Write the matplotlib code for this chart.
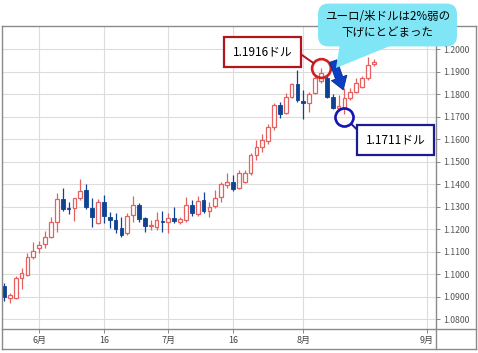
import numpy as np
import pandas as pd
import matplotlib
matplotlib.use("Agg")
import matplotlib.pyplot as plt
from matplotlib.lines import Line2D
from matplotlib.patches import Polygon

plt.rcParams['font.family'] = ['Noto Sans CJK JP', 'DejaVu Sans']

# daily EUR/USD candles (2020-05-22 .. 2020-08-19)
dates = pd.bdate_range("2020-05-22", periods=64)
opens = [1.0948, 1.0895, 1.0895, 1.0983, 1.0997, 1.1077, 1.1117, 1.1135, 1.1166, 1.1232,
         1.1335, 1.1297, 1.1295, 1.1339, 1.1375, 1.1295, 1.1228, 1.1321, 1.1255, 1.1241,
         1.1206, 1.1183, 1.1263, 1.1308, 1.1250, 1.1215, 1.1210, 1.1237, 1.1232, 1.1250,
         1.1232, 1.1241, 1.1308, 1.1268, 1.1330, 1.1281, 1.1303, 1.1343, 1.1397, 1.1410,
         1.1383, 1.1412, 1.1450, 1.1530, 1.1566, 1.1592, 1.1655, 1.1752, 1.1717, 1.1788,
         1.1846, 1.1770, 1.1761, 1.1806, 1.1859, 1.1872, 1.1788, 1.1739, 1.1739, 1.1783,
         1.1810, 1.1832, 1.1872, 1.1935]
highs = [1.0961, 1.0917, 1.0992, 1.1028, 1.1095, 1.1143, 1.1148, 1.1192, 1.1255, 1.1361,
         1.1383, 1.1321, 1.1339, 1.1423, 1.1401, 1.1339, 1.1335, 1.1352, 1.1277, 1.1272,
         1.1255, 1.1272, 1.1348, 1.1317, 1.1255, 1.1241, 1.1277, 1.1281, 1.1272, 1.1299,
         1.1255, 1.1343, 1.1330, 1.1348, 1.1366, 1.1321, 1.1375, 1.1410, 1.1450, 1.1441,
         1.1463, 1.1463, 1.1539, 1.1597, 1.1623, 1.1668, 1.1761, 1.1766, 1.1806, 1.1850,
         1.1908, 1.1819, 1.1810, 1.1886, 1.1916, 1.1886, 1.1801, 1.1797, 1.1828, 1.1828,
         1.1872, 1.1881, 1.1966, 1.1957]
lows = [1.0881, 1.0872, 1.0890, 1.0935, 1.0992, 1.1068, 1.1095, 1.1117, 1.1161, 1.1188,
        1.1281, 1.1268, 1.1237, 1.1330, 1.1290, 1.1210, 1.1223, 1.1228, 1.1206, 1.1183,
        1.1166, 1.1175, 1.1232, 1.1232, 1.1188, 1.1197, 1.1197, 1.1188, 1.1183, 1.1228,
        1.1223, 1.1232, 1.1259, 1.1259, 1.1272, 1.1255, 1.1295, 1.1321, 1.1383, 1.1370,
        1.1379, 1.1406, 1.1441, 1.1508, 1.1543, 1.1579, 1.1641, 1.1695, 1.1712, 1.1783,
        1.1766, 1.1690, 1.1721, 1.1801, 1.1850, 1.1783, 1.1735, 1.1725, 1.1711, 1.1775,
        1.1806, 1.1828, 1.1863, 1.1926]
closes = [1.0899, 1.0908, 1.0983, 1.1006, 1.1077, 1.1103, 1.1130, 1.1166, 1.1232, 1.1335,
          1.1290, 1.1292, 1.1339, 1.1370, 1.1299, 1.1255, 1.1321, 1.1259, 1.1241, 1.1201,
          1.1175, 1.1259, 1.1308, 1.1246, 1.1215, 1.1219, 1.1241, 1.1232, 1.1250, 1.1237,
          1.1246, 1.1308, 1.1272, 1.1326, 1.1281, 1.1299, 1.1339, 1.1401, 1.1410, 1.1379,
          1.1450, 1.1450, 1.1530, 1.1566, 1.1597, 1.1655, 1.1752, 1.1712, 1.1788, 1.1846,
          1.1775, 1.1761, 1.1801, 1.1872, 1.1895, 1.1788, 1.1739, 1.1750, 1.1783, 1.1810,
          1.1850, 1.1872, 1.1930, 1.1943]

yticks = [1.08, 1.09, 1.10, 1.11, 1.12, 1.13, 1.14, 1.15, 1.16, 1.17, 1.18, 1.19, 1.20]
xtick_dates = ["2020-06-01", "2020-06-16", "2020-07-01", "2020-07-16", "2020-08-03", "2020-09-01"]
xtick_labels = ["6月", "16", "7月", "16", "8月", "9月"]

up_col = "#e5605f"
down_col = "#0f4392"
W, H = 478, 353

def fp(x, y):  # figure pixel -> figure fraction
    return x / W, 1 - y / H

fig = plt.figure(figsize=(W / 100, H / 100), dpi=100)
ax = fig.add_axes([2 / W, (H - 329) / H, 434 / W, 303 / H])

o = np.array(opens); h = np.array(highs); l = np.array(lows); c = np.array(closes)
xi = np.arange(len(o))
up = c >= o
cols = np.where(up, up_col, down_col)

ax.vlines(xi, l, h, colors=cols, lw=0.9, zorder=2)
bottom = np.minimum(o, c)
height = np.maximum(np.abs(c - o), 0.00012)
ax.bar(xi[up], height[up], bottom=bottom[up], width=0.64, color="white",
       edgecolor=up_col, linewidth=0.9, zorder=3)
ax.bar(xi[~up], height[~up], bottom=bottom[~up], width=0.64, color=down_col,
       edgecolor=down_col, linewidth=0.6, zorder=3)

# trading-day index of the month ticks
cal = pd.bdate_range("2020-05-22", "2020-09-01")
xt = [cal.get_loc(pd.Timestamp(d)) for d in xtick_dates]

ax.set_xlim(-0.34, 73.6)
ax.set_ylim(1.0757, 1.2104)
ax.set_xticks(xt)
ax.set_xticklabels(xtick_labels)
ax.set_yticks(yticks)
ax.set_yticklabels([f"{v:.4f}" for v in yticks])
ax.yaxis.tick_right()
ax.tick_params(axis="y", length=3, width=0.7, color="#888888", pad=2,
               labelsize=6.3, labelcolor="#555555")
ax.tick_params(axis="x", length=3, width=0.7, color="#888888", pad=2,
               labelsize=6.5, labelcolor="#444444")
ax.grid(True, color="#dcdcdc", lw=0.8, zorder=0)
ax.set_axisbelow(True)
for s in ax.spines.values():
    s.set_visible(False)

# outer frame and axis lines
frame = "#8a8a8a"
for (x0, y0, x1, y1) in [(2, 26, 476, 26), (2, 349, 476, 349), (2, 26, 2, 349),
                         (476, 26, 476, 349), (436, 26, 436, 349), (2, 329, 476, 329)]:
    a, b = fp(x0, y0); cc, d = fp(x1, y1)
    fig.add_artist(Line2D([a, cc], [b, d], color=frame, lw=1.0))

# high / low markers
hi_i = int(np.argmax(h[50:60])) + 50
lo_i = int(np.argmin(l[55:])) + 55
ax.plot(hi_i, h[hi_i], marker="o", ms=13.5, mfc="none", mec="#d21f1f", mew=1.9,
        zorder=5, clip_on=False)
ax.plot(lo_i, l[lo_i] - 0.0013, marker="o", ms=13, mfc="none", mec="#1414b4", mew=1.9,
        zorder=5, clip_on=False)

ax.annotate(f"{h[hi_i]:.4f}ドル", xy=(hi_i, h[hi_i]), xytext=(-42, 12),
            textcoords="offset points", ha="center", va="center", fontsize=8.5,
            bbox=dict(boxstyle="square,pad=0.72", fc="white", ec="#b0161c", lw=1.6),
            arrowprops=dict(arrowstyle="-", color="#b0161c", lw=1.4, relpos=(1, 0.75),
                            shrinkA=0, shrinkB=6.5), zorder=6)
ax.annotate(f"{l[lo_i]:.4f}ドル", xy=(lo_i, l[lo_i] - 0.0013), xytext=(37, -16),
            textcoords="offset points", ha="center", va="center", fontsize=8.5,
            bbox=dict(boxstyle="square,pad=0.72", fc="white", ec="#1c1c90", lw=1.6),
            arrowprops=dict(arrowstyle="-", color="#1c1c90", lw=1.4, relpos=(0, 0.6),
                            shrinkA=0, shrinkB=6.5), zorder=6)

# speech bubble
tail = Polygon([fp(340, 44), fp(395, 44), fp(336, 68)], closed=True,
               transform=fig.transFigure, fc="#80e6f6", ec="none", zorder=7)
fig.add_artist(tail)
fig.text(*fp(387.5, 25), "ユーロ/米ドルは2%弱の\n下げにとどまった", ha="center", va="center",
         fontsize=8.3, linespacing=1.3, zorder=8,
         bbox=dict(boxstyle="round,pad=0.6,rounding_size=0.9", fc="#80e6f6", ec="none"))

# blue arrow
ax.annotate("", xy=(57.8, 1.1820), xytext=(56.1, 1.1948),
            arrowprops=dict(arrowstyle="simple,head_width=0.9,head_length=0.7,tail_width=0.42",
                            mutation_scale=13, fc="#0b3fc4", ec="#082c8a", lw=0.6,
                            shrinkA=0, shrinkB=0), zorder=9)

fig.savefig("out.png", dpi=100)
